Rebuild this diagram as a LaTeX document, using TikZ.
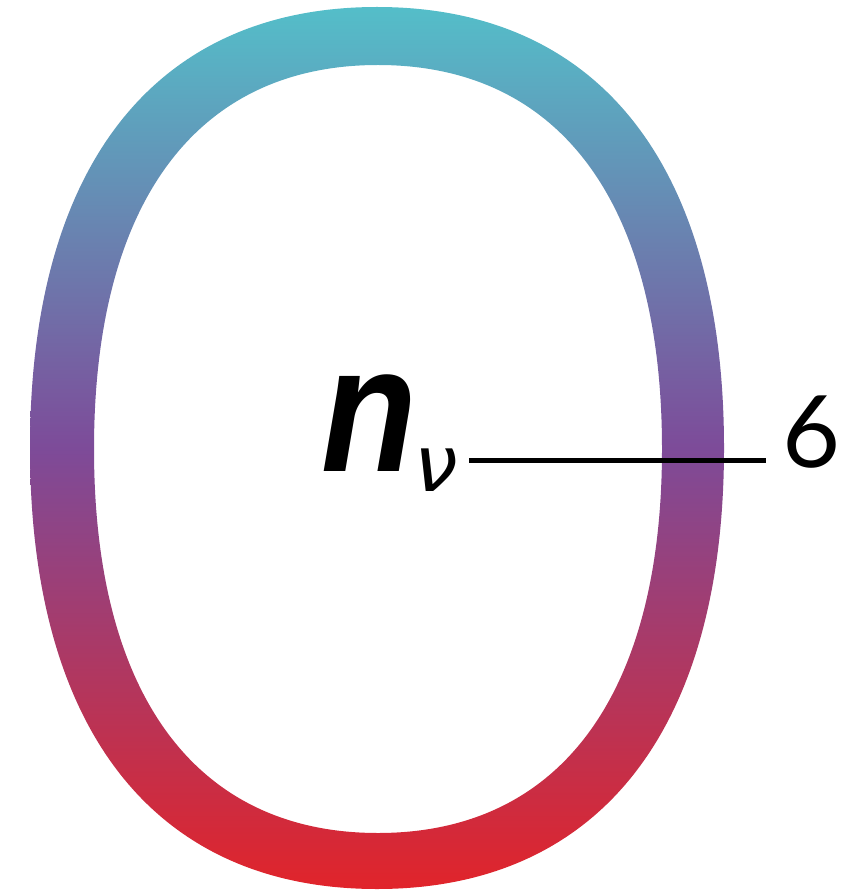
\documentclass[tikz,border=0pt]{standalone}
\usepackage{fontspec}
\setmainfont{Liberation Sans}
\newfontfamily\sixfont{Lato}
\newfontfamily\nufont{DejaVu Sans}
\definecolor{ringtop}{HTML}{54BEC9}
\definecolor{ringmid}{HTML}{7D4B99}
\definecolor{ringbot}{HTML}{E1242A}
\tikzset{
  ringfill/.style={even odd rule, top color=ringtop, bottom color=ringbot, middle color=ringmid, draw=none},
  leader/.style={line width=5pt, draw=black},
  bigtext/.style={inner sep=0pt, outer sep=0pt, anchor=base west}
}
\begin{document}
\begin{tikzpicture}[x=1pt,y=-1pt]
\useasboundingbox (0,0) rectangle (850,890);
\shade[ringfill]
  (377,7) .. controls (599,7) and (724,166) .. (724,448)
  .. controls (724,730) and (599,889) .. (377,889)
  .. controls (155,889) and (30,730) .. (30,448)
  .. controls (30,166) and (155,7) .. (377,7) -- cycle
  (378,65) .. controls (560,65) and (662,203) .. (662,449)
  .. controls (662,695) and (560,833) .. (378,833)
  .. controls (196,833) and (94,695) .. (94,449)
  .. controls (94,203) and (196,65) .. (378,65) -- cycle;
\node[bigtext] (nv) at (321,471) {\fontsize{180}{180}\selectfont\bfseries\itshape\scalebox{0.87}[1]{n}\hspace{-2pt}\raisebox{-20pt}{\nufont\fontsize{78}{78}\selectfont\mdseries\itshape ν}};
\node[bigtext] (six) at (782,467) {\sixfont\fontsize{100}{100}\selectfont 6};
\coordinate (la) at (469,460);
\coordinate (lb) at (766,460);
\draw[leader] (la) -- (lb);
\end{tikzpicture}
\end{document}
